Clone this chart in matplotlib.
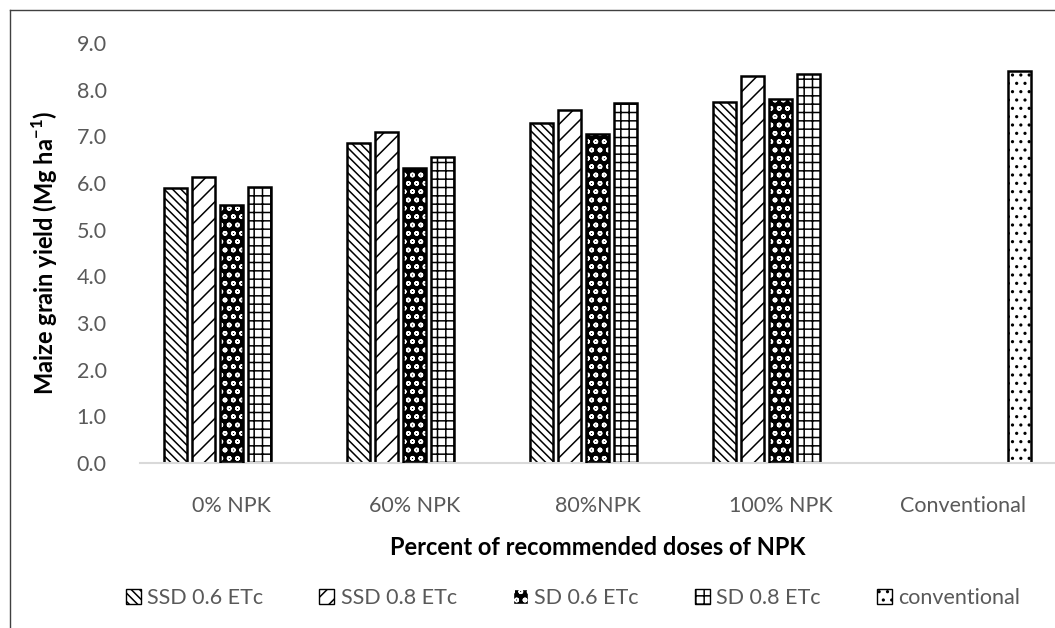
import numpy as np
import matplotlib.pyplot as plt
from matplotlib.patches import Patch
from matplotlib.lines import Line2D

plt.rcParams['font.family'] = ['Lato', 'DejaVu Sans']
plt.rcParams['mathtext.fontset'] = 'custom'
plt.rcParams['mathtext.rm'] = 'Lato'
plt.rcParams['mathtext.bf'] = 'Lato:bold'
plt.rcParams['hatch.linewidth'] = 1.1

# Yield data (Mg/ha) per NPK dose level
categories = ['0% NPK', '60% NPK', '80%NPK', '100% NPK', 'Conventional']
series_names = ['SSD 0.6 ETc', 'SSD 0.8 ETc', 'SD 0.6 ETc', 'SD 0.8 ETc', 'conventional']
ssd_06 = [5.89, 6.85, 7.29, 7.74, 0]
ssd_08 = [6.13, 7.10, 7.56, 8.29, 0]
sd_06 = [5.53, 6.33, 7.05, 7.81, 0]
sd_08 = [5.92, 6.56, 7.71, 8.33, 0]
conv = [0, 0, 0, 0, 8.40]
yticks = np.arange(0, 9.5, 1.0)

values = [ssd_06, ssd_08, sd_06, sd_08, conv]
hatches = ['\\\\\\\\', '//', 'oo', '++', '..']

fig = plt.figure(figsize=(10.55, 6.28), dpi=100)
ax = fig.add_axes([0.1327, 0.2627, 0.8673, 0.6688])

x = np.arange(len(categories))
step = 0.153
width = 0.131
grey = '#595959'

for j, vals in enumerate(values):
    pos = x + (j - 2) * step
    vals = np.array(vals, dtype=float)
    keep = vals > 0
    if j == 2:
        # dark bar with light dots, outlined afterwards
        ax.bar(pos[keep], vals[keep], width, color='black', edgecolor='white',
               hatch=hatches[j], linewidth=0, zorder=2)
        ax.bar(pos[keep], vals[keep], width, fill=False, edgecolor='black',
               linewidth=1.8, zorder=3)
    else:
        ax.bar(pos[keep], vals[keep], width, color='white', edgecolor='black',
               hatch=hatches[j], linewidth=1.8, zorder=2)

ax.set_xlim(-0.5, 4.5)
ax.set_ylim(0, 9)
ax.set_yticks(yticks)
ax.set_yticklabels([f'{v:.1f}' for v in yticks])
ax.set_xticks(x)
ax.set_xticklabels(categories)
ax.tick_params(axis='both', length=0, labelsize=15.5, colors=grey)
ax.tick_params(axis='y', pad=24)
ax.tick_params(axis='x', pad=24)

for s in ['top', 'right', 'left']:
    ax.spines[s].set_visible(False)
ax.spines['bottom'].set_color('#d9d9d9')
ax.spines['bottom'].set_linewidth(1.5)

ax.set_ylabel('Maize grain yield (Mg ha$^{\\mathbf{-1}}$)', fontsize=17,
              fontweight='bold', labelpad=12)
ax.set_xlabel('Percent of recommended doses of NPK', fontsize=17,
              fontweight='bold', labelpad=14)

handles = []
for j, name in enumerate(series_names):
    if j == 2:
        handles.append(Patch(facecolor='black', edgecolor='white', hatch=hatches[j], label=name))
    else:
        handles.append(Patch(facecolor='white', edgecolor='black', hatch=hatches[j], label=name))
leg = fig.legend(handles=handles, loc='center', bbox_to_anchor=(0.543, 0.047), ncol=5,
                 frameon=False, fontsize=15.5, handlelength=0.7, handleheight=0.7,
                 handletextpad=0.3, columnspacing=2.6)
for t in leg.get_texts():
    t.set_color(grey)

# outer chart frame (top and left edges)
fig.add_artist(Line2D([0.0095, 1.0], [0.984, 0.984], color='#404040', linewidth=1))
fig.add_artist(Line2D([0.0095, 0.0095], [0.0, 0.984], color='#404040', linewidth=1))

fig.savefig('out.png', dpi=100)
